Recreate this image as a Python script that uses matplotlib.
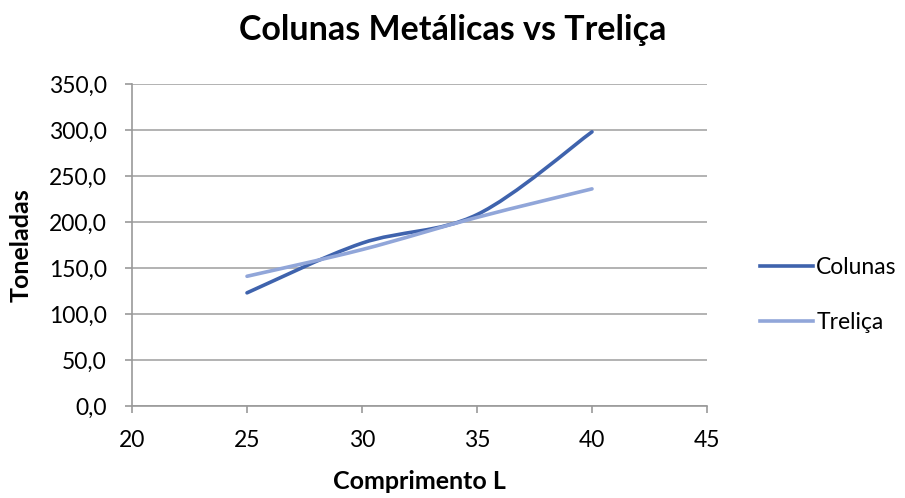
import numpy as np
import matplotlib.pyplot as plt
from matplotlib.path import Path
from matplotlib.patches import PathPatch
from matplotlib.lines import Line2D
from matplotlib.ticker import FuncFormatter

plt.rcParams['font.family'] = ['Lato', 'DejaVu Sans']

# dados
comprimento = [25, 30, 35, 40]
colunas = [123.0, 177.0, 208.0, 298.0]
trelica = [141.0, 170.0, 205.0, 236.0]

cor_colunas = '#3F63AD'
cor_trelica = '#91A6D9'


def smooth_path(x, y):
    # curva suavizada estilo planilha (bezier cubica tipo catmull-rom)
    pts = np.column_stack([x, y]).astype(float)
    verts = [pts[0]]
    codes = [Path.MOVETO]
    n = len(pts)
    for i in range(n - 1):
        p0 = pts[i - 1] if i > 0 else pts[i]
        p1 = pts[i]
        p2 = pts[i + 1]
        p3 = pts[i + 2] if i + 2 < n else pts[i + 1]
        c1 = p1 + (p2 - p0) / 6.0
        c2 = p2 - (p3 - p1) / 6.0
        verts += [c1, c2, p2]
        codes += [Path.CURVE4] * 3
    return Path(verts, codes)


fig = plt.figure(figsize=(9.05, 4.98), dpi=100)
ax = fig.add_axes([132 / 905, 1 - 406 / 498, 575 / 905, 322 / 498])

for ys, cor in [(colunas, cor_colunas), (trelica, cor_trelica)]:
    patch = PathPatch(smooth_path(comprimento, ys), facecolor='none',
                      edgecolor=cor, lw=2.6, capstyle='round', zorder=3)
    ax.add_patch(patch)

ax.set_xlim(20, 45)
ax.set_ylim(0, 350)
ax.set_xticks(range(20, 46, 5))
ax.set_yticks(range(0, 351, 50))
ax.yaxis.set_major_formatter(FuncFormatter(lambda v, p: f'{v:.1f}'.replace('.', ',')))

ax.grid(axis='y', color='#a6a6a6', lw=1.2)
ax.set_axisbelow(True)
for s in ['top', 'right']:
    ax.spines[s].set_visible(False)
for s in ['left', 'bottom']:
    ax.spines[s].set_color('#999999')
    ax.spines[s].set_linewidth(1.2)
ax.tick_params(axis='both', colors='#999999', length=5, width=1.2,
               labelsize=16.5, labelcolor='black', direction='out')
ax.tick_params(axis='y', pad=13)
ax.tick_params(axis='x', pad=12)

fig.text(0.5, 1 - 30 / 498, 'Colunas Metálicas vs Treliça', fontsize=24.5,
         fontweight='bold', ha='center', va='center')
ax.set_xlabel('Comprimento L', fontsize=18, fontweight='bold', labelpad=14)
ax.set_ylabel('Toneladas', fontsize=18, fontweight='bold', labelpad=12)

handles = [Line2D([], [], color=cor_colunas, lw=2.6),
           Line2D([], [], color=cor_trelica, lw=2.6)]
fig.legend(handles, ['Colunas', 'Treliça'], loc='center left',
           bbox_to_anchor=(760 / 905, 1 - 295 / 498), frameon=False,
           fontsize=16.5, handlelength=2.3, handletextpad=0.15, labelspacing=1.45,
           borderaxespad=0, borderpad=0)

fig.savefig('out.png', dpi=100)
